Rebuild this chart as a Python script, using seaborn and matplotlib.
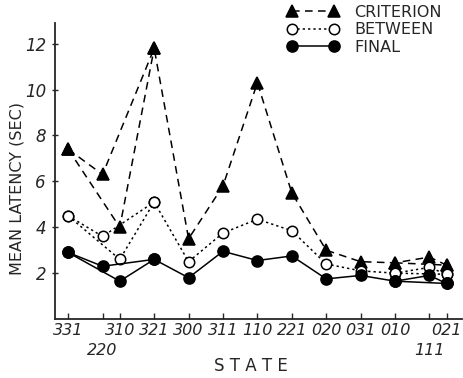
import numpy as np
import pandas as pd
import matplotlib
matplotlib.use("Agg")
import matplotlib.pyplot as plt
from matplotlib.lines import Line2D
import seaborn as sns

# ---- data ----
states = ["331", "220", "310", "321", "300", "311", "110", "221", "020", "031", "010", "111", "021"]
state_pos = [0, 1, 1.5, 2.5, 3.5, 4.5, 5.5, 6.5, 7.5, 8.5, 9.5, 10.5, 11]
second_row = ["220", "111"]

criterion = [7.4, 6.3, 4.0, 11.8, 3.5, 5.8, 10.3, 5.5, 3.0, 2.5, 2.45, 2.7, 2.35]
between   = [4.5, 3.6, 2.6, 5.1, 2.5, 3.75, 4.35, 3.85, 2.4, 2.1, 2.0, 2.25, 1.95]
final     = [2.9, 2.3, 1.65, 2.6, 1.8, 2.95, 2.55, 2.75, 1.75, 1.9, 1.65, 1.9, 1.55]

# connections between states: main path plus two alternative branches
path_main = ["331", "220", "321", "300", "311", "110", "221", "020", "031", "010", "111", "021"]
branch_1 = ["331", "310", "321"]
branch_2 = ["010", "021"]

series = {"CRITERION": criterion, "BETWEEN": between, "FINAL": final}

rows = []
for name, vals in series.items():
    for pname, path in (("main", path_main), ("b1", branch_1), ("b2", branch_2)):
        for order, s in enumerate(path):
            i = states.index(s)
            rows.append(dict(series=name, path=pname, order=order,
                             x=state_pos[i], y=vals[i]))
df = pd.DataFrame(rows)

sns.set_style("ticks")
plt.rcParams["font.family"] = ["DejaVu Sans"]

fig = plt.figure(figsize=(4.63, 3.78), dpi=100)
ax = fig.add_axes([0.119, 0.156, 0.879, 0.783])

styles = {
    "CRITERION": dict(ls=(0, (5, 3.5)), marker="^", mfc="black", ms=8),
    "BETWEEN": dict(ls=(0, (1.5, 2)), marker="o", mfc="white", ms=7.5),
    "FINAL": dict(ls="-", marker="o", mfc="black", ms=8),
}

for name in series:
    st = styles[name]
    for pname in ("main", "b1", "b2"):
        sub = df[(df.series == name) & (df.path == pname)].sort_values("order")
        sns.lineplot(data=sub, x="x", y="y", sort=False, estimator=None,
                     ax=ax, color="black", linewidth=1.1, linestyle=st["ls"],
                     marker=st["marker"],
                     markersize=st["ms"], markerfacecolor=st["mfc"],
                     markeredgecolor="black", markeredgewidth=1.1,
                     legend=False)

ax.set_xlim(-0.38, 11.45)
ax.set_ylim(0, 12.9)
sns.despine(ax=ax)
for sp in ("left", "bottom"):
    ax.spines[sp].set_linewidth(1.3)

major_pos = [p for p, s in zip(state_pos, states) if s not in second_row]
major_lab = [s for s in states if s not in second_row]
minor_pos = [p for p, s in zip(state_pos, states) if s in second_row]
minor_lab = [s for s in states if s in second_row]

ax.set_xticks(major_pos)
ax.set_xticklabels(major_lab, fontsize=11.5, fontstyle="italic")
ax.set_xticks(minor_pos, minor=True)
ax.set_xticklabels(minor_lab, minor=True, fontsize=11.5, fontstyle="italic")
ax.tick_params(axis="x", which="major", direction="in", length=4, width=1, pad=3)
ax.tick_params(axis="x", which="minor", direction="in", length=4, width=1, pad=17)
ax.set_yticks([2, 4, 6, 8, 10, 12])
ax.set_yticklabels(["2", "4", "6", "8", "10", "12"], fontsize=12, fontstyle="italic")
ax.tick_params(axis="y", direction="inout", length=5, width=1, pad=4)

ax.set_xlabel("S T A T E", fontsize=12)
ax.xaxis.set_label_coords(0.48, -0.128)
ax.set_ylabel("MEAN LATENCY (SEC)", fontsize=11.5)
ax.yaxis.set_label_coords(-0.075, 0.44)

handles = []
for name in series:
    st = styles[name]
    handles.append(Line2D([0], [0], color="black", linewidth=1.1, linestyle=st["ls"],
                          marker=st["marker"], markersize=st["ms"],
                          markerfacecolor=st["mfc"], markeredgecolor="black",
                          markeredgewidth=1.1))
leg = fig.legend(handles, list(series.keys()), loc="upper left",
                 bbox_to_anchor=(0.6, 1.012), frameon=False, numpoints=2,
                 handlelength=3.2, handletextpad=1.0, labelspacing=0.15,
                 fontsize=11.5, borderaxespad=0.2)

fig.savefig("out.png", dpi=100)
